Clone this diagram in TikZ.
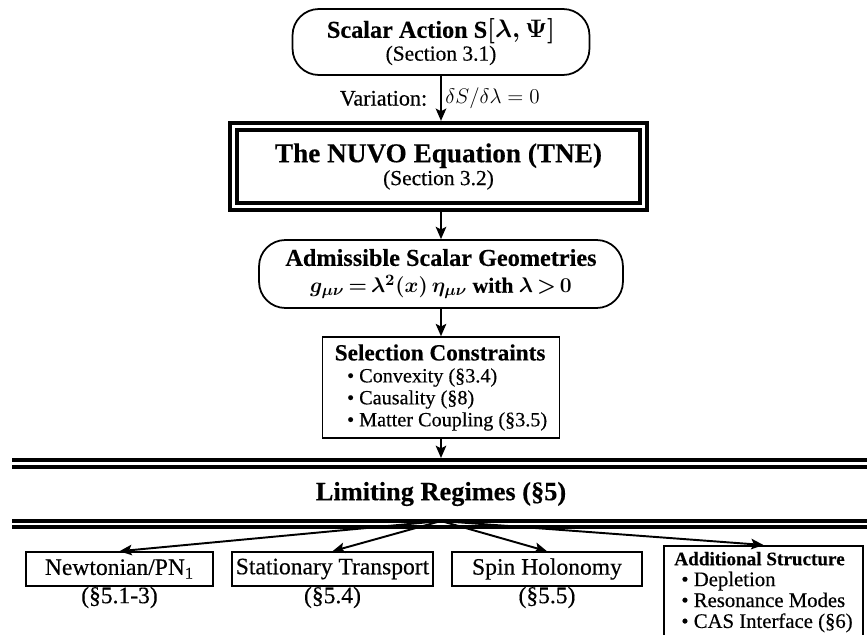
\documentclass[tikz,border=0pt]{standalone}
\usepackage{amsmath, amssymb}
\usepackage{fontspec}
\setmainfont{Liberation Serif}[UprightFeatures={FakeBold=0.4}, BoldFeatures={FakeBold=0.3}]
\usetikzlibrary{arrows.meta, positioning}

\newcommand{\bigbf}{\fontsize{15.5}{16}\selectfont\bfseries}
\newcommand{\midbf}{\fontsize{13.8}{15}\selectfont\bfseries}
\newcommand{\smallbf}{\fontsize{10.9}{12}\selectfont\bfseries}
\newcommand{\subtxt}{\fontsize{12.2}{13}\selectfont}
\newcommand{\boxtxt}{\fontsize{13.4}{14}\selectfont}
\newcommand{\bull}{\hspace*{7pt}\textbullet\ }

\tikzset{
    stadium/.style={draw, line width=1pt, rounded corners=15pt, align=center, inner sep=0pt},
    nuvobox/.style={draw, line width=2.2pt, double, double distance=1.7pt, align=center, inner sep=0pt, outer sep=3.2pt},
    plainbox/.style={draw, line width=0.9pt, inner sep=2pt},
    band/.style={line width=2.2pt, double, double distance=1.7pt},
    flow/.style={-{Stealth[length=7pt, width=6pt, inset=1.5pt]}, line width=1.1pt},
}

\begin{document}
\begin{tikzpicture}[x=0.02cm, y=-0.02cm]

        \useasboundingbox (0,0) rectangle (867,635);

        % main column
        \node[stadium, minimum width=5.94cm, minimum height=1.32cm, font=\subtxt] (action) at (441,42)
            {{\midbf\boldmath Scalar Action S$[\lambda, \Psi]$}\\(Section 3.1)};

        \node[nuvobox, minimum width=8.2cm, minimum height=1.6cm, font=\subtxt] (nuvo) at (438.5,166.5)
            {{\bigbf The NUVO Equation (TNE)}\\(Section 3.2)};

        \node[stadium, minimum width=7.28cm, minimum height=1.36cm, font=\fontsize{13.8}{15.3}\selectfont\bfseries] (geom) at (441,274)
            {Admissible Scalar Geometries\\
             {\fontsize{12.3}{15.3}\selectfont\boldmath\thickmuskip=3mu $g_{\mu\nu} = \lambda^2(x)\,\eta_{\mu\nu}$ with $\lambda > 0$}};

        \node[plainbox, minimum width=4.74cm, minimum height=2.02cm, align=left, font=\fontsize{11.5}{12.5}\selectfont] (select) at (441,387.5)
            {{\fontsize{13.2}{13}\selectfont\bfseries Selection Constraints}\\
             \bull Convexity (§3.4)\\
             \bull Causality (§8)\\
             \bull Matter Coupling (§3.5)};

        \draw[flow] (action) -- (action |- nuvo.north)
            node[midway, left, xshift=-4pt, font=\fontsize{12.6}{13}\selectfont] {Variation:}
            node[midway, right, inner sep=2pt, font=\fontsize{12.6}{13}\selectfont] {$\delta S/\delta\lambda = 0$};
        \draw[flow] (nuvo.south -| geom) -- (geom);
        \draw[flow] (geom) -- (select);

        % limiting regimes band
        \draw[band] (12,463.5) -- (875,463.5);
        \draw[band] (12,524) -- (875,524);
        \node[font=\fontsize{15}{16}\selectfont\bfseries] (limits) at (441,494) {Limiting Regimes (§5)};
        \coordinate (bandtop) at (441,458);
        \coordinate (hub) at (441,521);

        \draw[flow] (select) -- (bandtop);

        % regimes
        \node[plainbox, minimum width=3.74cm, minimum height=0.68cm, font=\boxtxt] (newton) at (119.5,569) {Newtonian/PN\textsubscript{1}};
        \node[plainbox, minimum width=4.02cm, minimum height=0.68cm, font=\boxtxt] (transport) at (332.5,569) {Stationary Transport};
        \node[plainbox, minimum width=3.8cm, minimum height=0.68cm, font=\boxtxt] (spin) at (547,569) {Spin Holonomy};
        \node[plainbox, anchor=north, minimum width=3.98cm, inner ysep=3.5pt, align=left, font=\fontsize{11.8}{11.9}\selectfont] (extra) at (763.5,545)
            {{\smallbf Additional Structure}\\
             \hspace*{-3pt}\bull Depletion\\
             \hspace*{-3pt}\bull Resonance Modes\\
             \hspace*{-3pt}\bull CAS Interface (§6)};

        \node[inner sep=0pt, font=\boxtxt] (newtonsec) at (119.5,597.5) {(§5.1-3)};
        \node[inner sep=0pt, font=\boxtxt] (transportsec) at (332.5,597.5) {(§5.4)};
        \node[inner sep=0pt, font=\boxtxt] (spinsec) at (547,597.5) {(§5.5)};

        \draw[flow] (hub) -- (newton.north);
        \draw[flow] (hub) -- (transport.north);
        \draw[flow] (hub) -- (spin.north);
        \draw[flow] (hub) -- (extra.north);

\end{tikzpicture}
\end{document}
